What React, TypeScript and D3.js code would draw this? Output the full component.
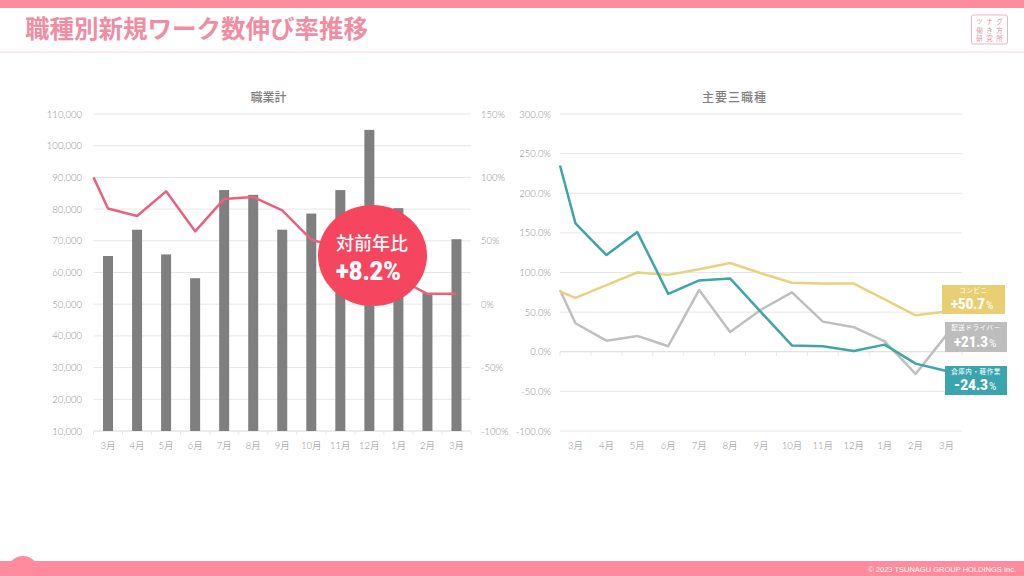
import React from "react";
import * as d3 from "d3";

const months = ["3月","4月","5月","6月","7月","8月","9月","10月","11月","12月","1月","2月","3月"];
const totalWork = [65200,73500,65700,58200,86000,84500,73500,78600,86000,105000,80300,53500,70500];
const totalRate = [75.5,69.5,89,57.5,83,84.5,74,51,44,34,20,8.2,8.2];
const totalRateLead = 100;
const conbini = [68,84,100,97,104,112,99,87,86,86,66,46,50.7];
const conbiniLead = 76;
const driver = [36,14,20,7,78,25,53,75,38,31,13,-28,21.3];
const driverLead = 78;
const warehouse = [162,122,151,73,90,92.5,50,8,7,1,9,-15,-24.3];
const warehouseLead = 235;
const leftTicks = [10000,20000,30000,40000,50000,60000,70000,80000,90000,100000,110000];
const rateTicks = [-100,-50,0,50,100,150];
const mainTicks = [-100,-50,0,50,100,150,200,250,300];
const logoRows = [["ツ","ナ","グ"],["働","き","方"],["研","究","所"]];

const SANS = "'Lato','Noto Sans CJK JP',sans-serif";
const JP = "'Noto Sans CJK JP',sans-serif";
const PINK = "#FF8B9E";
const GRID = "#E6E6E6";
const TICK = "#8E8E8E";

const top = 114, bottom = 431;
const xL = d3.scaleBand<string>().domain(months.map((_, i) => String(i))).range([93.5, 471]);
const xR = d3.scaleBand<string>().domain(months.map((_, i) => String(i))).range([560, 962]);
const yBar = d3.scaleLinear().domain([10000, 110000]).range([bottom, top]);
const yRate = d3.scaleLinear().domain([-100, 150]).range([bottom, top]);
const yMain = d3.scaleLinear().domain([-100, 300]).range([bottom, top]);

function path(x: d3.ScaleBand<string>, y: d3.ScaleLinear<number, number>, lead: number, vals: number[]) {
  const pts: [number, number][] = [[x.range()[0], y(lead)]];
  vals.forEach((v, i) => pts.push([x(String(i))! + x.bandwidth() / 2, y(v)]));
  return d3.line()(pts)!;
}

function Badge({ x, y, w, h, fill, name, value, suffix }: any) {
  return (
    <g>
      <rect x={x} y={y} width={w} height={h} fill={fill} />
      <text x={x + w / 2} y={y + 8} textAnchor="middle" fontFamily={JP} fontSize={6.5} fill="#fff" letterSpacing={0.6}>{name}</text>
      <text x={x + 9} y={y + h - 5} fontFamily="'Roboto',sans-serif" fontWeight={900} fontSize={15} fill="#fff" textLength={34} lengthAdjust="spacingAndGlyphs">{value}</text>
      <text x={x + 44} y={y + h - 5} fontFamily="'Roboto',sans-serif" fontSize={10} fill="#fff">{suffix}</text>
    </g>
  );
}

export default function App() {
  const fmt = d3.format(",");
  return (
    <svg width={1024} height={576} viewBox="0 0 1024 576" style={{ position: "absolute", left: 0, top: 0, display: "block", background: "#fff" }}>
      <rect x={0} y={0} width={1024} height={8} fill={PINK} />
      <text x={25} y={37.5} fontFamily={JP} fontWeight={700} fontSize={24.5} fill="#F18CA2">職種別新規ワーク数伸び率推移</text>
      <rect x={0} y={51.5} width={1024} height={1.5} fill="#FDE6EA" />
      <rect x={971.5} y={15} width={36} height={29} rx={2} fill="#fff" stroke="#F2B3C0" strokeWidth={1} />
      {logoRows.map((row, r) => row.map((c, k) => (
        <text key={r + "-" + k} x={979.5 + k * 10} y={24 + r * 8.5} textAnchor="middle" fontFamily={JP} fontSize={6.5} fill="#E58DA2">{c}</text>
      )))}

      {/* left chart */}
      <text x={268.5} y={102} textAnchor="middle" fontFamily={JP} fontWeight={500} fontSize={12} fill="#7F7F7F">職業計</text>
      {leftTicks.map(t => (
        <g key={t}>
          {t > 10000 && <line x1={93.5} x2={471} y1={yBar(t)} y2={yBar(t)} stroke={GRID} strokeWidth={1} />}
          <text x={82} y={yBar(t) + 3.5} textAnchor="end" fontFamily={SANS} fontWeight={300} fontSize={9.5} fill={TICK}>{fmt(t)}</text>
        </g>
      ))}
      <line x1={93.5} x2={471} y1={bottom} y2={bottom} stroke="#D9D9D9" />
      {d3.range(14).map(i => {
        const xx = 93.5 + i * xL.step();
        return <line key={i} x1={xx} x2={xx} y1={bottom} y2={bottom + 4} stroke="#E8E8E8" />;
      })}
      {rateTicks.map(t => (
        <text key={t} x={481} y={yRate(t) + 3.5} fontFamily={SANS} fontWeight={300} fontSize={9.5} fill={TICK}>{t}%</text>
      ))}
      {totalWork.map((v, i) => (
        <rect key={i} x={xL(String(i))! + xL.bandwidth() / 2 - 5} y={yBar(v)} width={10} height={bottom - yBar(v)} fill="#7F7F7F" />
      ))}
      <path d={path(xL, yRate, totalRateLead, totalRate)} fill="none" stroke="#E8617F" strokeWidth={2.5} strokeLinejoin="round" />
      {months.map((m, i) => (
        <text key={i} x={xL(String(i))! + xL.bandwidth() / 2} y={449} textAnchor="middle" fontFamily={SANS} fontWeight={300} fontSize={9.5} fill={TICK}>{m}</text>
      ))}
      <ellipse cx={372.5} cy={255.5} rx={54.5} ry={50.5} fill="#F6465F" />
      <text x={372} y={249.5} textAnchor="middle" fontFamily={JP} fontWeight={500} fontSize={18} fill="#fff">対前年比</text>
      <text x={336} y={280} fontFamily="'Roboto',sans-serif" fontWeight={900} fontSize={25} fill="#fff" textLength={65} lengthAdjust="spacingAndGlyphs">+8.2%</text>

      {/* right chart */}
      <text x={734.5} y={101.5} textAnchor="middle" fontFamily={JP} fontWeight={500} fontSize={12} letterSpacing={1} fill="#7F7F7F">主要三職種</text>
      {mainTicks.map(t => (
        <g key={t}>
          <line x1={560} x2={962} y1={yMain(t)} y2={yMain(t)} stroke={t === 0 ? "#D9D9D9" : GRID} strokeWidth={1} />
          <text x={551} y={yMain(t) + 3.5} textAnchor="end" fontFamily={SANS} fontWeight={300} fontSize={9.5} fill={TICK}>{t.toFixed(1)}%</text>
        </g>
      ))}
      {d3.range(14).map(i => {
        const xx = 560 + i * xR.step();
        return <line key={i} x1={xx} x2={xx} y1={yMain(0)} y2={yMain(0) + 4} stroke="#E8E8E8" />;
      })}
      <path d={path(xR, yMain, driverLead, driver)} fill="none" stroke="#BFBFBF" strokeWidth={2.5} strokeLinejoin="round" />
      <path d={path(xR, yMain, conbiniLead, conbini)} fill="none" stroke="#E9D27F" strokeWidth={2.5} strokeLinejoin="round" />
      <path d={path(xR, yMain, warehouseLead, warehouse)} fill="none" stroke="#40A4A8" strokeWidth={2.5} strokeLinejoin="round" />
      {months.map((m, i) => (
        <text key={i} x={xR(String(i))! + xR.bandwidth() / 2} y={449} textAnchor="middle" fontFamily={SANS} fontWeight={300} fontSize={9.5} fill={TICK}>{m}</text>
      ))}
      <Badge x={942} y={285} w={63} h={29} fill="#E9CF74" name="コンビニ" value="+50.7" suffix="%" />
      <Badge x={945} y={322} w={62} h={30} fill="#BDBDBD" name="配送ドライバー" value="+21.3" suffix="%" />
      <Badge x={945} y={366} w={62} h={29} fill="#3BA5AE" name="倉庫内・軽作業" value="-24.3" suffix="%" />

      {/* footer */}
      <circle cx={23} cy={572} r={16} fill={PINK} />
      <rect x={0} y={561} width={1024} height={15} fill={PINK} />
      <text x={1016} y={571.5} textAnchor="end" fontFamily="'Liberation Sans',sans-serif" fontSize={7.5} fill="#fff">© 2023 TSUNAGU GROUP HOLDINGS Inc.</text>
    </svg>
  );
}
